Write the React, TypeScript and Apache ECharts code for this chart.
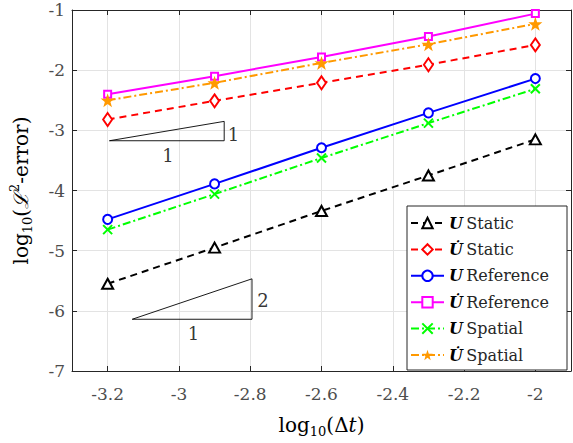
import React, { useEffect, useRef } from "react";
import * as echarts from "echarts";

// log10 of the time step
const dtLog = [-3.2, -2.9, -2.6, -2.3, -2.0];

// log10 of the L2 error for each scheme
const uStatic = [-5.55, -4.95, -4.34, -3.75, -3.15];
const uDotStatic = [-2.82, -2.51, -2.21, -1.91, -1.58];
const uReference = [-4.48, -3.89, -3.29, -2.71, -2.14];
const uDotReference = [-2.4, -2.1, -1.78, -1.44, -1.06];
const uSpatial = [-4.65, -4.06, -3.46, -2.88, -2.31];
const uDotSpatial = [-2.5, -2.21, -1.88, -1.57, -1.23];

// slope guide triangles: base start, base end, base level, slope
const slopeGuides = [
  { x0: -3.195, x1: -2.873, y0: -3.173, slope: 1 },
  { x0: -3.131, x1: -2.795, y0: -6.14, slope: 2 },
];
// slope guide annotations
const guideLabels = [
  { text: "1", x: -3.031, y: -3.411 },
  { text: "1", x: -2.847, y: -3.066 },
  { text: "2", x: -2.764, y: -5.822 },
  { text: "1", x: -2.959, y: -6.383 },
];

const SERIF = "DejaVu Serif";
const STAR =
  "path://M50,0 L61.8,35.3 L97.6,34.5 L69.1,57.1 L79.4,90.5 L50,70 L20.6,90.5 L30.9,57.1 L2.4,34.5 L38.2,35.3 Z";
const CROSS = "path://M0,0 L10,10 M10,0 L0,10";

const zip = (ys: number[]) => dtLog.map((x, i) => [x, ys[i]]);

const legendText: Record<string, string> = {
  uStatic: "{u|U} {t|Static}",
  uDotStatic: "{u|U\u0307} {t|Static}",
  uRef: "{u|U} {t|Reference}",
  uDotRef: "{u|U\u0307} {t|Reference}",
  uSpat: "{u|U} {t|Spatial}",
  uDotSpat: "{u|U\u0307} {t|Spatial}",
};

export default function App() {
  const ref = useRef<HTMLDivElement>(null);

  useEffect(() => {
    document.body.style.margin = "0";
    if (!ref.current) return;
    const chart = echarts.init(ref.current, undefined, { renderer: "svg" });

    const dash = [7, 5];
    const dashDot = [8, 3, 2, 3];

    const lineSeries = (
      name: string,
      ys: number[],
      color: string,
      type: any,
      symbol: string,
      symbolSize: any,
      filled = false
    ) => ({
      type: "line",
      name,
      data: zip(ys),
      symbol,
      symbolSize,
      z: 5,
      lineStyle: { color, width: 2, type },
      itemStyle: filled
        ? { color, borderWidth: 0 }
        : { color, borderColor: color, borderWidth: 2 },
    });

    const axisLine = { show: true, lineStyle: { color: "#262626", width: 1 } };
    const axisTick = { show: true, inside: true, length: 5, lineStyle: { color: "#262626" } };
    const splitLine = { show: true, lineStyle: { color: "#e3e3e3", width: 1 } };
    const tickLabel = {
      fontFamily: SERIF,
      fontSize: 17,
      color: "#4d4d4d",
    };

    const xBase = { type: "value", min: -3.3, max: -1.9, splitNumber: 7 };
    const yBase = { type: "value", min: -7, max: -1, interval: 1 };

    const nameRich = {
      a: { fontFamily: SERIF, fontSize: 20, lineHeight: 26, color: "#000" },
      i: { fontFamily: SERIF, fontSize: 20, lineHeight: 26, fontStyle: "italic", color: "#000" },
      s: { fontFamily: SERIF, fontSize: 13, lineHeight: 13, verticalAlign: "bottom", color: "#000" },
      p: { fontFamily: SERIF, fontSize: 13, lineHeight: 13, verticalAlign: "top", color: "#000" },
    };

    chart.setOption({
      animation: false,
      backgroundColor: "#fff",
      grid: { left: 69, top: 10, right: 2, bottom: 62, containLabel: false },
      xAxis: [
        {
          ...xBase,
          position: "bottom",
          axisLine,
          axisTick,
          splitLine,
          axisLabel: { ...tickLabel, margin: 14, showMinLabel: false, showMaxLabel: false },
          name: "{a|log}{s|10}{a|(Δ}{i|t}{a|)}",
          nameLocation: "middle",
          nameGap: 41,
          nameTextStyle: { rich: nameRich },
        },
        {
          ...xBase,
          position: "top",
          axisLine,
          axisTick,
          splitLine: { show: false },
          axisLabel: { show: false },
        },
      ],
      yAxis: [
        {
          ...yBase,
          position: "left",
          axisLine,
          axisTick,
          splitLine,
          axisLabel: { ...tickLabel, margin: 7 },
          name: "{a|log}{s|10}{a|(}{i|ℒ}{p|2}{a|-error)}",
          nameLocation: "middle",
          nameRotate: 90,
          nameGap: 38,
          nameTextStyle: { rich: nameRich },
        },
        {
          ...yBase,
          position: "right",
          axisLine,
          axisTick,
          splitLine: { show: false },
          axisLabel: { show: false },
        },
      ],
      legend: {
        orient: "vertical",
        left: 407,
        top: 206,
        padding: [7, 6, 5, 3],
        itemGap: 6.4,
        itemWidth: 33,
        itemHeight: 13,
        backgroundColor: "#fff",
        borderColor: "#262626",
        borderWidth: 1,
        borderRadius: 0,
        selectedMode: false,
        data: ["uStatic", "uDotStatic", "uRef", "uDotRef", "uSpat", "uDotSpat"],
        formatter: (n: string) => legendText[n] ?? n,
        textStyle: {
          width: 112,
          lineHeight: 20,
          rich: {
            u: { fontFamily: SERIF, fontSize: 16, fontStyle: "italic", fontWeight: "bold", color: "#000" },
            t: { fontFamily: SERIF, fontSize: 16, color: "#262626" },
          },
        },
      },
      series: [
        ...slopeGuides.map((g) => ({
          type: "line",
          silent: true,
          symbol: "none",
          z: 2,
          lineStyle: { color: "#000", width: 0.9 },
          data: [
            [g.x0, g.y0],
            [g.x1, g.y0],
            [g.x1, g.y0 + g.slope * (g.x1 - g.x0)],
            [g.x0, g.y0],
          ],
        })),
        {
          type: "scatter",
          silent: true,
          symbolSize: 0,
          z: 2,
          data: guideLabels.map((l) => ({ name: l.text, value: [l.x, l.y] })),
          label: {
            show: true,
            position: "inside",
            formatter: (p: any) => p.name,
            fontFamily: SERIF,
            fontSize: 18,
            color: "#000",
          },
        },
        lineSeries("uStatic", uStatic, "#000000", dash, "emptyTriangle", [11, 10]),
        lineSeries("uDotStatic", uDotStatic, "#ff0000", dash, "emptyDiamond", [9, 13]),
        lineSeries("uRef", uReference, "#0000ff", "solid", "emptyCircle", 9),
        lineSeries("uDotRef", uDotReference, "#ff00ff", "solid", "emptyRect", 7),
        lineSeries("uSpat", uSpatial, "#00ff00", dashDot, CROSS, 9),
        lineSeries("uDotSpat", uDotSpatial, "#ff9900", dashDot, STAR, 14, true),
      ],
    });

    return () => chart.dispose();
  }, []);

  return <div ref={ref} style={{ width: 573, height: 443 }} />;
}
